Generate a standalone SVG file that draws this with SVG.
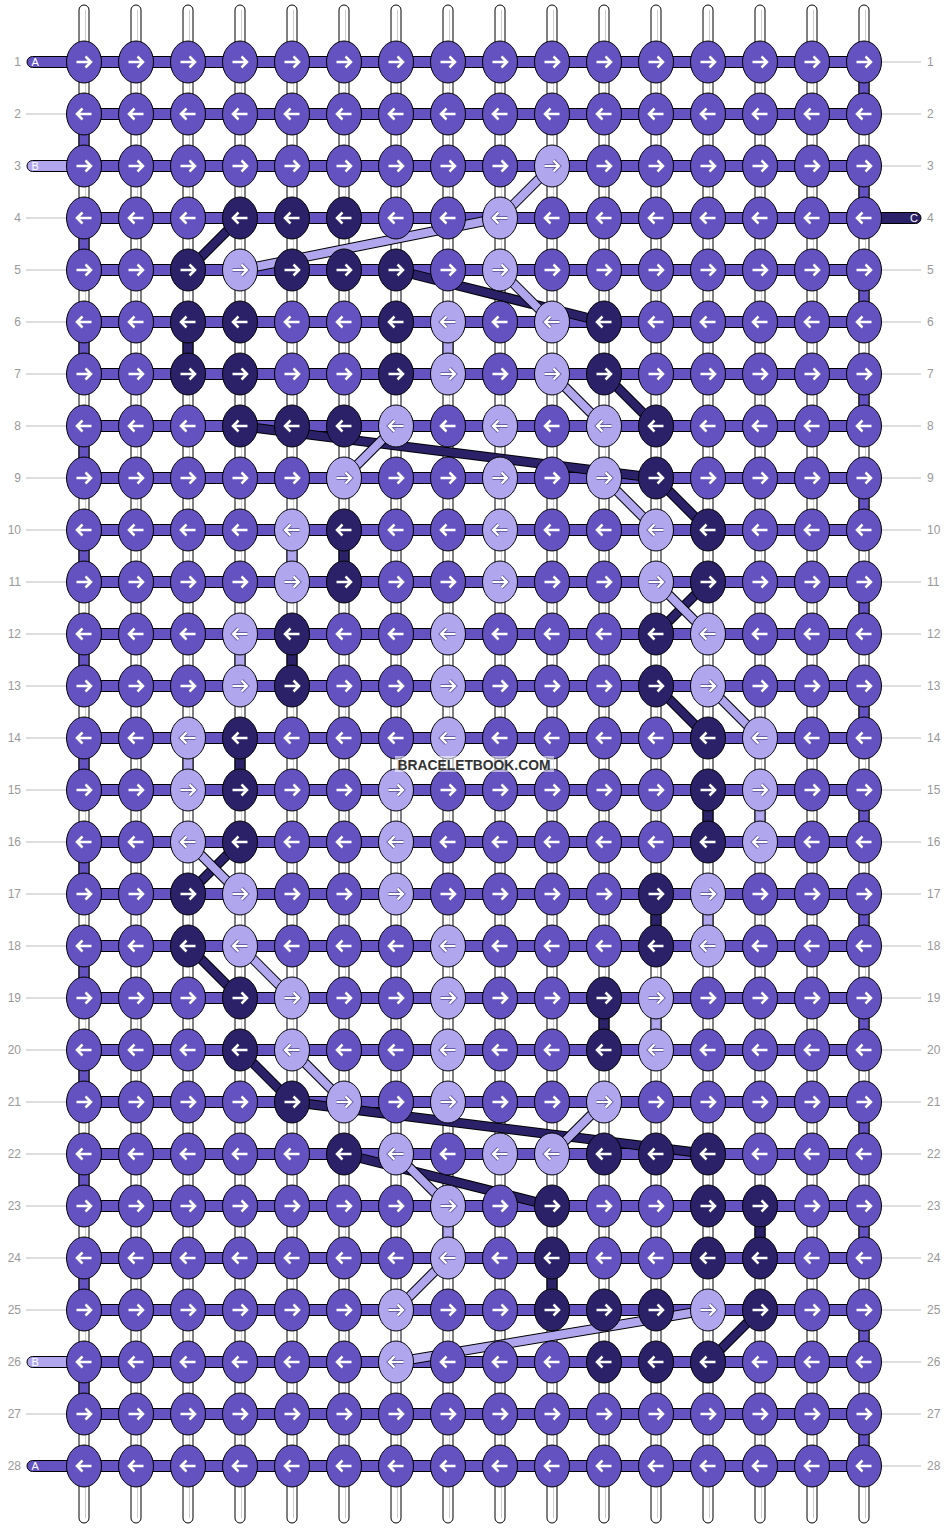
<svg xmlns="http://www.w3.org/2000/svg" xmlns:xlink="http://www.w3.org/1999/xlink" width="948" height="1528" viewBox="0 0 948 1528">
<style>
.w{fill:#fff;stroke:#000;stroke-width:1}
.wl{stroke:#cfcfcf;stroke-width:1}
.ha{fill:#6452c0;stroke:#000;stroke-width:1}
.hb{fill:#b0a6ee;stroke:#000;stroke-width:1}
.hc{fill:#2a2168;stroke:#000;stroke-width:1}
.ka{fill:#6452c0;stroke:#000;stroke-width:1}
.kb{fill:#b0a6ee;stroke:#000;stroke-width:1}
.kc{fill:#2a2168;stroke:#000;stroke-width:1}
.aw{fill:none;stroke:#fff;stroke-width:2.5}
.ao{fill:none;stroke:#6a60a8;stroke-width:4}
.co{fill:none;stroke:#000;stroke-width:10}
.cb{fill:none;stroke:#b0a6ee;stroke-width:8}
.cc{fill:none;stroke:#2a2168;stroke-width:8}
.gl{fill:none;stroke:#bdbdbd;stroke-width:1}
.num{font-family:"Liberation Sans",Arial,sans-serif;font-size:12px;fill:#999}
.pl{font-family:"Liberation Sans",Arial,sans-serif;font-size:11px;fill:#fff}
.wm{font-family:"Liberation Sans",Arial,sans-serif;font-size:15px;font-weight:bold;fill:#333}
</style>
<defs>
<g id="AR"><ellipse rx="17.5" ry="21" class="ka"/><path class="aw" d="M-7.5 0H6.5M1.5-5.5L7 0 1.5 5.5"/></g>
<g id="AL"><ellipse rx="17.5" ry="21" class="ka"/><path class="aw" d="M7.5 0H-6.5M-1.5-5.5L-7 0-1.5 5.5"/></g>
<g id="CR"><ellipse rx="17.5" ry="21" class="kc"/><path class="aw" d="M-7.5 0H6.5M1.5-5.5L7 0 1.5 5.5"/></g>
<g id="CL"><ellipse rx="17.5" ry="21" class="kc"/><path class="aw" d="M7.5 0H-6.5M-1.5-5.5L-7 0-1.5 5.5"/></g>
<g id="BR"><ellipse rx="17.5" ry="21" class="kb"/><path class="ao" d="M-7.5 0H6.5M1.5-5.5L7 0 1.5 5.5"/><path class="aw" d="M-7.5 0H6.5M1.5-5.5L7 0 1.5 5.5" style="stroke-width:2.2"/></g>
<g id="BL"><ellipse rx="17.5" ry="21" class="kb"/><path class="ao" d="M7.5 0H-6.5M-1.5-5.5L-7 0-1.5 5.5"/><path class="aw" d="M7.5 0H-6.5M-1.5-5.5L-7 0-1.5 5.5" style="stroke-width:2.2"/></g>
</defs>
<rect width="948" height="1528" fill="#fff"/>
<g id="warp">
<rect class="w" x="79" y="5" width="10" height="1518" rx="5"/><rect class="w" x="131" y="5" width="10" height="1518" rx="5"/><rect class="w" x="183" y="5" width="10" height="1518" rx="5"/><rect class="w" x="235" y="5" width="10" height="1518" rx="5"/><rect class="w" x="287" y="5" width="10" height="1518" rx="5"/><rect class="w" x="339" y="5" width="10" height="1518" rx="5"/><rect class="w" x="391" y="5" width="10" height="1518" rx="5"/><rect class="w" x="443" y="5" width="10" height="1518" rx="5"/><rect class="w" x="495" y="5" width="10" height="1518" rx="5"/><rect class="w" x="547" y="5" width="10" height="1518" rx="5"/><rect class="w" x="599" y="5" width="10" height="1518" rx="5"/><rect class="w" x="651" y="5" width="10" height="1518" rx="5"/><rect class="w" x="703" y="5" width="10" height="1518" rx="5"/><rect class="w" x="755" y="5" width="10" height="1518" rx="5"/><rect class="w" x="807" y="5" width="10" height="1518" rx="5"/><rect class="w" x="859" y="5" width="10" height="1518" rx="5"/>
<path class="wl" d="M85.5 10V1518M137.5 10V1518M189.5 10V1518M241.5 10V1518M293.5 10V1518M345.5 10V1518M397.5 10V1518M449.5 10V1518M501.5 10V1518M553.5 10V1518M605.5 10V1518M657.5 10V1518M709.5 10V1518M761.5 10V1518M813.5 10V1518M865.5 10V1518"/>
</g>
<g id="labels">
<path class="gl" d="M26 114H67M26 218H67M26 270H67M26 322H67M26 374H67M26 426H67M26 478H67M26 530H67M26 582H67M26 634H67M26 686H67M26 738H67M26 790H67M26 842H67M26 894H67M26 946H67M26 998H67M26 1050H67M26 1102H67M26 1154H67M26 1206H67M26 1258H67M26 1310H67M26 1414H67"/>
<path class="gl" d="M882 62H921M882 114H921M882 166H921M882 270H921M882 322H921M882 374H921M882 426H921M882 478H921M882 530H921M882 582H921M882 634H921M882 686H921M882 738H921M882 790H921M882 842H921M882 894H921M882 946H921M882 998H921M882 1050H921M882 1102H921M882 1154H921M882 1206H921M882 1258H921M882 1310H921M882 1362H921M882 1414H921M882 1466H921"/>
<g class="num" text-anchor="end">
<text x="21" y="66.3">1</text><text x="21" y="118.3">2</text><text x="21" y="170.3">3</text><text x="21" y="222.3">4</text><text x="21" y="274.3">5</text><text x="21" y="326.3">6</text><text x="21" y="378.3">7</text><text x="21" y="430.3">8</text><text x="21" y="482.3">9</text><text x="21" y="534.3">10</text><text x="21" y="586.3">11</text><text x="21" y="638.3">12</text><text x="21" y="690.3">13</text><text x="21" y="742.3">14</text><text x="21" y="794.3">15</text><text x="21" y="846.3">16</text><text x="21" y="898.3">17</text><text x="21" y="950.3">18</text><text x="21" y="1002.3">19</text><text x="21" y="1054.3">20</text><text x="21" y="1106.3">21</text><text x="21" y="1158.3">22</text><text x="21" y="1210.3">23</text><text x="21" y="1262.3">24</text><text x="21" y="1314.3">25</text><text x="21" y="1366.3">26</text><text x="21" y="1418.3">27</text><text x="21" y="1470.3">28</text>
</g>
<g class="num">
<text x="927" y="66.3">1</text><text x="927" y="118.3">2</text><text x="927" y="170.3">3</text><text x="927" y="222.3">4</text><text x="927" y="274.3">5</text><text x="927" y="326.3">6</text><text x="927" y="378.3">7</text><text x="927" y="430.3">8</text><text x="927" y="482.3">9</text><text x="927" y="534.3">10</text><text x="927" y="586.3">11</text><text x="927" y="638.3">12</text><text x="927" y="690.3">13</text><text x="927" y="742.3">14</text><text x="927" y="794.3">15</text><text x="927" y="846.3">16</text><text x="927" y="898.3">17</text><text x="927" y="950.3">18</text><text x="927" y="1002.3">19</text><text x="927" y="1054.3">20</text><text x="927" y="1106.3">21</text><text x="927" y="1158.3">22</text><text x="927" y="1210.3">23</text><text x="927" y="1262.3">24</text><text x="927" y="1314.3">25</text><text x="927" y="1366.3">26</text><text x="927" y="1418.3">27</text><text x="927" y="1470.3">28</text>
</g>
</g>
<g id="threads">
<rect class="ha" x="27" y="56.5" width="62" height="11" rx="5.5"/>
<rect class="hb" x="27" y="160.5" width="62" height="11" rx="5.5"/>
<rect class="hb" x="27" y="1356.5" width="62" height="11" rx="5.5"/>
<rect class="ha" x="27" y="1460.5" width="62" height="11" rx="5.5"/>
<rect class="hc" x="859" y="212.5" width="62" height="11" rx="5.5"/>
<text class="pl" x="31.5" y="66">A</text>
<text class="pl" x="31.5" y="170">B</text>
<text class="pl" x="31.5" y="1366">B</text>
<text class="pl" x="31.5" y="1470">A</text>
<text class="pl" x="918" y="222" text-anchor="end">C</text>
</g>
<g id="connectors">
<g id="rows-bars">
<rect class="ha" x="84" y="56.5" width="780" height="11"/><rect class="ha" x="84" y="108.5" width="780" height="11"/><rect class="ha" x="84" y="160.5" width="780" height="11"/><rect class="ha" x="84" y="212.5" width="780" height="11"/><rect class="ha" x="84" y="264.5" width="780" height="11"/><rect class="ha" x="84" y="316.5" width="780" height="11"/><rect class="ha" x="84" y="368.5" width="780" height="11"/><rect class="ha" x="84" y="420.5" width="780" height="11"/><rect class="ha" x="84" y="472.5" width="780" height="11"/><rect class="ha" x="84" y="524.5" width="780" height="11"/><rect class="ha" x="84" y="576.5" width="780" height="11"/><rect class="ha" x="84" y="628.5" width="780" height="11"/><rect class="ha" x="84" y="680.5" width="780" height="11"/><rect class="ha" x="84" y="732.5" width="780" height="11"/><rect class="ha" x="84" y="784.5" width="780" height="11"/><rect class="ha" x="84" y="836.5" width="780" height="11"/><rect class="ha" x="84" y="888.5" width="780" height="11"/><rect class="ha" x="84" y="940.5" width="780" height="11"/><rect class="ha" x="84" y="992.5" width="780" height="11"/><rect class="ha" x="84" y="1044.5" width="780" height="11"/><rect class="ha" x="84" y="1096.5" width="780" height="11"/><rect class="ha" x="84" y="1148.5" width="780" height="11"/><rect class="ha" x="84" y="1200.5" width="780" height="11"/><rect class="ha" x="84" y="1252.5" width="780" height="11"/><rect class="ha" x="84" y="1304.5" width="780" height="11"/><rect class="ha" x="84" y="1356.5" width="780" height="11"/><rect class="ha" x="84" y="1408.5" width="780" height="11"/><rect class="ha" x="84" y="1460.5" width="780" height="11"/>
</g>
<g id="turns">
<rect class="ha" x="79" y="114" width="10" height="52"/><rect class="ha" x="79" y="218" width="10" height="52"/><rect class="ha" x="79" y="322" width="10" height="52"/><rect class="ha" x="79" y="426" width="10" height="52"/><rect class="ha" x="79" y="530" width="10" height="52"/><rect class="ha" x="79" y="634" width="10" height="52"/><rect class="ha" x="79" y="738" width="10" height="52"/><rect class="ha" x="79" y="842" width="10" height="52"/><rect class="ha" x="79" y="946" width="10" height="52"/><rect class="ha" x="79" y="1050" width="10" height="52"/><rect class="ha" x="79" y="1154" width="10" height="52"/><rect class="ha" x="79" y="1258" width="10" height="52"/><rect class="ha" x="79" y="1362" width="10" height="52"/>
<rect class="ha" x="859" y="62" width="10" height="52"/><rect class="ha" x="859" y="166" width="10" height="52"/><rect class="ha" x="859" y="270" width="10" height="52"/><rect class="ha" x="859" y="374" width="10" height="52"/><rect class="ha" x="859" y="478" width="10" height="52"/><rect class="ha" x="859" y="582" width="10" height="52"/><rect class="ha" x="859" y="686" width="10" height="52"/><rect class="ha" x="859" y="790" width="10" height="52"/><rect class="ha" x="859" y="894" width="10" height="52"/><rect class="ha" x="859" y="998" width="10" height="52"/><rect class="ha" x="859" y="1102" width="10" height="52"/><rect class="ha" x="859" y="1206" width="10" height="52"/><rect class="ha" x="859" y="1310" width="10" height="52"/><rect class="ha" x="859" y="1414" width="10" height="52"/>
</g>
<g id="verticals">
<rect class="hc" x="183" y="322" width="10" height="52"/>
<rect class="hb" x="443" y="322" width="10" height="52"/>
<rect class="hb" x="287" y="530" width="10" height="52"/>
<rect class="hc" x="339" y="530" width="10" height="52"/>
<rect class="hb" x="235" y="634" width="10" height="52"/>
<rect class="hc" x="287" y="634" width="10" height="52"/>
<rect class="hb" x="183" y="738" width="10" height="52"/>
<rect class="hc" x="235" y="738" width="10" height="52"/>
<rect class="hc" x="703" y="790" width="10" height="52"/>
<rect class="hb" x="755" y="790" width="10" height="52"/>
<rect class="hc" x="651" y="894" width="10" height="52"/>
<rect class="hb" x="703" y="894" width="10" height="52"/>
<rect class="hc" x="599" y="998" width="10" height="52"/>
<rect class="hb" x="651" y="998" width="10" height="52"/>
<rect class="hb" x="443" y="1206" width="10" height="52"/>
<rect class="hc" x="755" y="1206" width="10" height="52"/>
<rect class="hc" x="547" y="1258" width="10" height="52"/>
</g>
<g id="dark-links">
<path class="co" d="M240 218L188 270"/><path class="cc" d="M240 218L188 270"/>
<path class="co" d="M396 270L604 322"/><path class="cc" d="M396 270L604 322"/>
<path class="co" d="M604 374L656 426"/><path class="cc" d="M604 374L656 426"/>
<path class="co" d="M240 426L656 478"/><path class="cc" d="M240 426L656 478"/>
<path class="co" d="M656 478L708 530"/><path class="cc" d="M656 478L708 530"/>
<path class="co" d="M708 582L656 634"/><path class="cc" d="M708 582L656 634"/>
<path class="co" d="M656 686L708 738"/><path class="cc" d="M656 686L708 738"/>
<path class="co" d="M188 894L240 842"/><path class="cc" d="M188 894L240 842"/>
<path class="co" d="M188 946L240 998"/><path class="cc" d="M188 946L240 998"/>
<path class="co" d="M240 1050L292 1102"/><path class="cc" d="M240 1050L292 1102"/>
<path class="co" d="M292 1102L708 1154"/><path class="cc" d="M292 1102L708 1154"/>
<path class="co" d="M344 1154L552 1206"/><path class="cc" d="M344 1154L552 1206"/>
<path class="co" d="M760 1310L708 1362"/><path class="cc" d="M760 1310L708 1362"/>
</g>
<g id="light-links">
<path class="co" d="M552 166L500 218"/><path class="cb" d="M552 166L500 218"/>
<path class="co" d="M500 218L240 270"/><path class="cb" d="M500 218L240 270"/>
<path class="co" d="M500 270L552 322"/><path class="cb" d="M500 270L552 322"/>
<path class="co" d="M552 374L604 426"/><path class="cb" d="M552 374L604 426"/>
<path class="co" d="M396 426L344 478"/><path class="cb" d="M396 426L344 478"/>
<path class="co" d="M604 478L656 530"/><path class="cb" d="M604 478L656 530"/>
<path class="co" d="M656 582L708 634"/><path class="cb" d="M656 582L708 634"/>
<path class="co" d="M708 686L760 738"/><path class="cb" d="M708 686L760 738"/>
<path class="co" d="M188 842L240 894"/><path class="cb" d="M188 842L240 894"/>
<path class="co" d="M240 946L292 998"/><path class="cb" d="M240 946L292 998"/>
<path class="co" d="M292 1050L344 1102"/><path class="cb" d="M292 1050L344 1102"/>
<path class="co" d="M604 1102L552 1154"/><path class="cb" d="M604 1102L552 1154"/>
<path class="co" d="M396 1154L448 1206"/><path class="cb" d="M396 1154L448 1206"/>
<path class="co" d="M448 1258L396 1310"/><path class="cb" d="M448 1258L396 1310"/>
<path class="co" d="M708 1310L396 1362"/><path class="cb" d="M708 1310L396 1362"/>
</g>
</g>
<g id="knots">
<g id="row1" transform="translate(0,62)">
<g id="k1-1"><use href="#AR" x="84"/></g><g id="k1-2"><use href="#AR" x="136"/></g><g id="k1-3"><use href="#AR" x="188"/></g><g id="k1-4"><use href="#AR" x="240"/></g><g id="k1-5"><use href="#AR" x="292"/></g><g id="k1-6"><use href="#AR" x="344"/></g><g id="k1-7"><use href="#AR" x="396"/></g><g id="k1-8"><use href="#AR" x="448"/></g><g id="k1-9"><use href="#AR" x="500"/></g><g id="k1-10"><use href="#AR" x="552"/></g><g id="k1-11"><use href="#AR" x="604"/></g><g id="k1-12"><use href="#AR" x="656"/></g><g id="k1-13"><use href="#AR" x="708"/></g><g id="k1-14"><use href="#AR" x="760"/></g><g id="k1-15"><use href="#AR" x="812"/></g><g id="k1-16"><use href="#AR" x="864"/></g>
</g>
<g id="row2" transform="translate(0,114)">
<g id="k2-1"><use href="#AL" x="84"/></g><g id="k2-2"><use href="#AL" x="136"/></g><g id="k2-3"><use href="#AL" x="188"/></g><g id="k2-4"><use href="#AL" x="240"/></g><g id="k2-5"><use href="#AL" x="292"/></g><g id="k2-6"><use href="#AL" x="344"/></g><g id="k2-7"><use href="#AL" x="396"/></g><g id="k2-8"><use href="#AL" x="448"/></g><g id="k2-9"><use href="#AL" x="500"/></g><g id="k2-10"><use href="#AL" x="552"/></g><g id="k2-11"><use href="#AL" x="604"/></g><g id="k2-12"><use href="#AL" x="656"/></g><g id="k2-13"><use href="#AL" x="708"/></g><g id="k2-14"><use href="#AL" x="760"/></g><g id="k2-15"><use href="#AL" x="812"/></g><g id="k2-16"><use href="#AL" x="864"/></g>
</g>
<g id="row3" transform="translate(0,166)">
<g id="k3-1"><use href="#AR" x="84"/></g><g id="k3-2"><use href="#AR" x="136"/></g><g id="k3-3"><use href="#AR" x="188"/></g><g id="k3-4"><use href="#AR" x="240"/></g><g id="k3-5"><use href="#AR" x="292"/></g><g id="k3-6"><use href="#AR" x="344"/></g><g id="k3-7"><use href="#AR" x="396"/></g><g id="k3-8"><use href="#AR" x="448"/></g><g id="k3-9"><use href="#AR" x="500"/></g><g id="k3-10"><use href="#BR" x="552"/></g><g id="k3-11"><use href="#AR" x="604"/></g><g id="k3-12"><use href="#AR" x="656"/></g><g id="k3-13"><use href="#AR" x="708"/></g><g id="k3-14"><use href="#AR" x="760"/></g><g id="k3-15"><use href="#AR" x="812"/></g><g id="k3-16"><use href="#AR" x="864"/></g>
</g>
<g id="row4" transform="translate(0,218)">
<g id="k4-1"><use href="#AL" x="84"/></g><g id="k4-2"><use href="#AL" x="136"/></g><g id="k4-3"><use href="#AL" x="188"/></g><g id="k4-4"><use href="#CL" x="240"/></g><g id="k4-5"><use href="#CL" x="292"/></g><g id="k4-6"><use href="#CL" x="344"/></g><g id="k4-7"><use href="#AL" x="396"/></g><g id="k4-8"><use href="#AL" x="448"/></g><g id="k4-9"><use href="#BL" x="500"/></g><g id="k4-10"><use href="#AL" x="552"/></g><g id="k4-11"><use href="#AL" x="604"/></g><g id="k4-12"><use href="#AL" x="656"/></g><g id="k4-13"><use href="#AL" x="708"/></g><g id="k4-14"><use href="#AL" x="760"/></g><g id="k4-15"><use href="#AL" x="812"/></g><g id="k4-16"><use href="#AL" x="864"/></g>
</g>
<g id="row5" transform="translate(0,270)">
<g id="k5-1"><use href="#AR" x="84"/></g><g id="k5-2"><use href="#AR" x="136"/></g><g id="k5-3"><use href="#CR" x="188"/></g><g id="k5-4"><use href="#BR" x="240"/></g><g id="k5-5"><use href="#CR" x="292"/></g><g id="k5-6"><use href="#CR" x="344"/></g><g id="k5-7"><use href="#CR" x="396"/></g><g id="k5-8"><use href="#AR" x="448"/></g><g id="k5-9"><use href="#BR" x="500"/></g><g id="k5-10"><use href="#AR" x="552"/></g><g id="k5-11"><use href="#AR" x="604"/></g><g id="k5-12"><use href="#AR" x="656"/></g><g id="k5-13"><use href="#AR" x="708"/></g><g id="k5-14"><use href="#AR" x="760"/></g><g id="k5-15"><use href="#AR" x="812"/></g><g id="k5-16"><use href="#AR" x="864"/></g>
</g>
<g id="row6" transform="translate(0,322)">
<g id="k6-1"><use href="#AL" x="84"/></g><g id="k6-2"><use href="#AL" x="136"/></g><g id="k6-3"><use href="#CL" x="188"/></g><g id="k6-4"><use href="#CL" x="240"/></g><g id="k6-5"><use href="#AL" x="292"/></g><g id="k6-6"><use href="#AL" x="344"/></g><g id="k6-7"><use href="#CL" x="396"/></g><g id="k6-8"><use href="#BL" x="448"/></g><g id="k6-9"><use href="#AL" x="500"/></g><g id="k6-10"><use href="#BL" x="552"/></g><g id="k6-11"><use href="#CL" x="604"/></g><g id="k6-12"><use href="#AL" x="656"/></g><g id="k6-13"><use href="#AL" x="708"/></g><g id="k6-14"><use href="#AL" x="760"/></g><g id="k6-15"><use href="#AL" x="812"/></g><g id="k6-16"><use href="#AL" x="864"/></g>
</g>
<g id="row7" transform="translate(0,374)">
<g id="k7-1"><use href="#AR" x="84"/></g><g id="k7-2"><use href="#AR" x="136"/></g><g id="k7-3"><use href="#CR" x="188"/></g><g id="k7-4"><use href="#CR" x="240"/></g><g id="k7-5"><use href="#AR" x="292"/></g><g id="k7-6"><use href="#AR" x="344"/></g><g id="k7-7"><use href="#CR" x="396"/></g><g id="k7-8"><use href="#BR" x="448"/></g><g id="k7-9"><use href="#AR" x="500"/></g><g id="k7-10"><use href="#BR" x="552"/></g><g id="k7-11"><use href="#CR" x="604"/></g><g id="k7-12"><use href="#AR" x="656"/></g><g id="k7-13"><use href="#AR" x="708"/></g><g id="k7-14"><use href="#AR" x="760"/></g><g id="k7-15"><use href="#AR" x="812"/></g><g id="k7-16"><use href="#AR" x="864"/></g>
</g>
<g id="row8" transform="translate(0,426)">
<g id="k8-1"><use href="#AL" x="84"/></g><g id="k8-2"><use href="#AL" x="136"/></g><g id="k8-3"><use href="#AL" x="188"/></g><g id="k8-4"><use href="#CL" x="240"/></g><g id="k8-5"><use href="#CL" x="292"/></g><g id="k8-6"><use href="#CL" x="344"/></g><g id="k8-7"><use href="#BL" x="396"/></g><g id="k8-8"><use href="#AL" x="448"/></g><g id="k8-9"><use href="#BL" x="500"/></g><g id="k8-10"><use href="#AL" x="552"/></g><g id="k8-11"><use href="#BL" x="604"/></g><g id="k8-12"><use href="#CL" x="656"/></g><g id="k8-13"><use href="#AL" x="708"/></g><g id="k8-14"><use href="#AL" x="760"/></g><g id="k8-15"><use href="#AL" x="812"/></g><g id="k8-16"><use href="#AL" x="864"/></g>
</g>
<g id="row9" transform="translate(0,478)">
<g id="k9-1"><use href="#AR" x="84"/></g><g id="k9-2"><use href="#AR" x="136"/></g><g id="k9-3"><use href="#AR" x="188"/></g><g id="k9-4"><use href="#AR" x="240"/></g><g id="k9-5"><use href="#AR" x="292"/></g><g id="k9-6"><use href="#BR" x="344"/></g><g id="k9-7"><use href="#AR" x="396"/></g><g id="k9-8"><use href="#AR" x="448"/></g><g id="k9-9"><use href="#BR" x="500"/></g><g id="k9-10"><use href="#AR" x="552"/></g><g id="k9-11"><use href="#BR" x="604"/></g><g id="k9-12"><use href="#CR" x="656"/></g><g id="k9-13"><use href="#AR" x="708"/></g><g id="k9-14"><use href="#AR" x="760"/></g><g id="k9-15"><use href="#AR" x="812"/></g><g id="k9-16"><use href="#AR" x="864"/></g>
</g>
<g id="row10" transform="translate(0,530)">
<g id="k10-1"><use href="#AL" x="84"/></g><g id="k10-2"><use href="#AL" x="136"/></g><g id="k10-3"><use href="#AL" x="188"/></g><g id="k10-4"><use href="#AL" x="240"/></g><g id="k10-5"><use href="#BL" x="292"/></g><g id="k10-6"><use href="#CL" x="344"/></g><g id="k10-7"><use href="#AL" x="396"/></g><g id="k10-8"><use href="#AL" x="448"/></g><g id="k10-9"><use href="#BL" x="500"/></g><g id="k10-10"><use href="#AL" x="552"/></g><g id="k10-11"><use href="#AL" x="604"/></g><g id="k10-12"><use href="#BL" x="656"/></g><g id="k10-13"><use href="#CL" x="708"/></g><g id="k10-14"><use href="#AL" x="760"/></g><g id="k10-15"><use href="#AL" x="812"/></g><g id="k10-16"><use href="#AL" x="864"/></g>
</g>
<g id="row11" transform="translate(0,582)">
<g id="k11-1"><use href="#AR" x="84"/></g><g id="k11-2"><use href="#AR" x="136"/></g><g id="k11-3"><use href="#AR" x="188"/></g><g id="k11-4"><use href="#AR" x="240"/></g><g id="k11-5"><use href="#BR" x="292"/></g><g id="k11-6"><use href="#CR" x="344"/></g><g id="k11-7"><use href="#AR" x="396"/></g><g id="k11-8"><use href="#AR" x="448"/></g><g id="k11-9"><use href="#BR" x="500"/></g><g id="k11-10"><use href="#AR" x="552"/></g><g id="k11-11"><use href="#AR" x="604"/></g><g id="k11-12"><use href="#BR" x="656"/></g><g id="k11-13"><use href="#CR" x="708"/></g><g id="k11-14"><use href="#AR" x="760"/></g><g id="k11-15"><use href="#AR" x="812"/></g><g id="k11-16"><use href="#AR" x="864"/></g>
</g>
<g id="row12" transform="translate(0,634)">
<g id="k12-1"><use href="#AL" x="84"/></g><g id="k12-2"><use href="#AL" x="136"/></g><g id="k12-3"><use href="#AL" x="188"/></g><g id="k12-4"><use href="#BL" x="240"/></g><g id="k12-5"><use href="#CL" x="292"/></g><g id="k12-6"><use href="#AL" x="344"/></g><g id="k12-7"><use href="#AL" x="396"/></g><g id="k12-8"><use href="#BL" x="448"/></g><g id="k12-9"><use href="#AL" x="500"/></g><g id="k12-10"><use href="#AL" x="552"/></g><g id="k12-11"><use href="#AL" x="604"/></g><g id="k12-12"><use href="#CL" x="656"/></g><g id="k12-13"><use href="#BL" x="708"/></g><g id="k12-14"><use href="#AL" x="760"/></g><g id="k12-15"><use href="#AL" x="812"/></g><g id="k12-16"><use href="#AL" x="864"/></g>
</g>
<g id="row13" transform="translate(0,686)">
<g id="k13-1"><use href="#AR" x="84"/></g><g id="k13-2"><use href="#AR" x="136"/></g><g id="k13-3"><use href="#AR" x="188"/></g><g id="k13-4"><use href="#BR" x="240"/></g><g id="k13-5"><use href="#CR" x="292"/></g><g id="k13-6"><use href="#AR" x="344"/></g><g id="k13-7"><use href="#AR" x="396"/></g><g id="k13-8"><use href="#BR" x="448"/></g><g id="k13-9"><use href="#AR" x="500"/></g><g id="k13-10"><use href="#AR" x="552"/></g><g id="k13-11"><use href="#AR" x="604"/></g><g id="k13-12"><use href="#CR" x="656"/></g><g id="k13-13"><use href="#BR" x="708"/></g><g id="k13-14"><use href="#AR" x="760"/></g><g id="k13-15"><use href="#AR" x="812"/></g><g id="k13-16"><use href="#AR" x="864"/></g>
</g>
<g id="row14" transform="translate(0,738)">
<g id="k14-1"><use href="#AL" x="84"/></g><g id="k14-2"><use href="#AL" x="136"/></g><g id="k14-3"><use href="#BL" x="188"/></g><g id="k14-4"><use href="#CL" x="240"/></g><g id="k14-5"><use href="#AL" x="292"/></g><g id="k14-6"><use href="#AL" x="344"/></g><g id="k14-7"><use href="#AL" x="396"/></g><g id="k14-8"><use href="#BL" x="448"/></g><g id="k14-9"><use href="#AL" x="500"/></g><g id="k14-10"><use href="#AL" x="552"/></g><g id="k14-11"><use href="#AL" x="604"/></g><g id="k14-12"><use href="#AL" x="656"/></g><g id="k14-13"><use href="#CL" x="708"/></g><g id="k14-14"><use href="#BL" x="760"/></g><g id="k14-15"><use href="#AL" x="812"/></g><g id="k14-16"><use href="#AL" x="864"/></g>
</g>
<g id="row15" transform="translate(0,790)">
<g id="k15-1"><use href="#AR" x="84"/></g><g id="k15-2"><use href="#AR" x="136"/></g><g id="k15-3"><use href="#BR" x="188"/></g><g id="k15-4"><use href="#CR" x="240"/></g><g id="k15-5"><use href="#AR" x="292"/></g><g id="k15-6"><use href="#AR" x="344"/></g><g id="k15-7"><use href="#BR" x="396"/></g><g id="k15-8"><use href="#AR" x="448"/></g><g id="k15-9"><use href="#AR" x="500"/></g><g id="k15-10"><use href="#AR" x="552"/></g><g id="k15-11"><use href="#AR" x="604"/></g><g id="k15-12"><use href="#AR" x="656"/></g><g id="k15-13"><use href="#CR" x="708"/></g><g id="k15-14"><use href="#BR" x="760"/></g><g id="k15-15"><use href="#AR" x="812"/></g><g id="k15-16"><use href="#AR" x="864"/></g>
</g>
<g id="row16" transform="translate(0,842)">
<g id="k16-1"><use href="#AL" x="84"/></g><g id="k16-2"><use href="#AL" x="136"/></g><g id="k16-3"><use href="#BL" x="188"/></g><g id="k16-4"><use href="#CL" x="240"/></g><g id="k16-5"><use href="#AL" x="292"/></g><g id="k16-6"><use href="#AL" x="344"/></g><g id="k16-7"><use href="#BL" x="396"/></g><g id="k16-8"><use href="#AL" x="448"/></g><g id="k16-9"><use href="#AL" x="500"/></g><g id="k16-10"><use href="#AL" x="552"/></g><g id="k16-11"><use href="#AL" x="604"/></g><g id="k16-12"><use href="#AL" x="656"/></g><g id="k16-13"><use href="#CL" x="708"/></g><g id="k16-14"><use href="#BL" x="760"/></g><g id="k16-15"><use href="#AL" x="812"/></g><g id="k16-16"><use href="#AL" x="864"/></g>
</g>
<g id="row17" transform="translate(0,894)">
<g id="k17-1"><use href="#AR" x="84"/></g><g id="k17-2"><use href="#AR" x="136"/></g><g id="k17-3"><use href="#CR" x="188"/></g><g id="k17-4"><use href="#BR" x="240"/></g><g id="k17-5"><use href="#AR" x="292"/></g><g id="k17-6"><use href="#AR" x="344"/></g><g id="k17-7"><use href="#BR" x="396"/></g><g id="k17-8"><use href="#AR" x="448"/></g><g id="k17-9"><use href="#AR" x="500"/></g><g id="k17-10"><use href="#AR" x="552"/></g><g id="k17-11"><use href="#AR" x="604"/></g><g id="k17-12"><use href="#CR" x="656"/></g><g id="k17-13"><use href="#BR" x="708"/></g><g id="k17-14"><use href="#AR" x="760"/></g><g id="k17-15"><use href="#AR" x="812"/></g><g id="k17-16"><use href="#AR" x="864"/></g>
</g>
<g id="row18" transform="translate(0,946)">
<g id="k18-1"><use href="#AL" x="84"/></g><g id="k18-2"><use href="#AL" x="136"/></g><g id="k18-3"><use href="#CL" x="188"/></g><g id="k18-4"><use href="#BL" x="240"/></g><g id="k18-5"><use href="#AL" x="292"/></g><g id="k18-6"><use href="#AL" x="344"/></g><g id="k18-7"><use href="#AL" x="396"/></g><g id="k18-8"><use href="#BL" x="448"/></g><g id="k18-9"><use href="#AL" x="500"/></g><g id="k18-10"><use href="#AL" x="552"/></g><g id="k18-11"><use href="#AL" x="604"/></g><g id="k18-12"><use href="#CL" x="656"/></g><g id="k18-13"><use href="#BL" x="708"/></g><g id="k18-14"><use href="#AL" x="760"/></g><g id="k18-15"><use href="#AL" x="812"/></g><g id="k18-16"><use href="#AL" x="864"/></g>
</g>
<g id="row19" transform="translate(0,998)">
<g id="k19-1"><use href="#AR" x="84"/></g><g id="k19-2"><use href="#AR" x="136"/></g><g id="k19-3"><use href="#AR" x="188"/></g><g id="k19-4"><use href="#CR" x="240"/></g><g id="k19-5"><use href="#BR" x="292"/></g><g id="k19-6"><use href="#AR" x="344"/></g><g id="k19-7"><use href="#AR" x="396"/></g><g id="k19-8"><use href="#BR" x="448"/></g><g id="k19-9"><use href="#AR" x="500"/></g><g id="k19-10"><use href="#AR" x="552"/></g><g id="k19-11"><use href="#CR" x="604"/></g><g id="k19-12"><use href="#BR" x="656"/></g><g id="k19-13"><use href="#AR" x="708"/></g><g id="k19-14"><use href="#AR" x="760"/></g><g id="k19-15"><use href="#AR" x="812"/></g><g id="k19-16"><use href="#AR" x="864"/></g>
</g>
<g id="row20" transform="translate(0,1050)">
<g id="k20-1"><use href="#AL" x="84"/></g><g id="k20-2"><use href="#AL" x="136"/></g><g id="k20-3"><use href="#AL" x="188"/></g><g id="k20-4"><use href="#CL" x="240"/></g><g id="k20-5"><use href="#BL" x="292"/></g><g id="k20-6"><use href="#AL" x="344"/></g><g id="k20-7"><use href="#AL" x="396"/></g><g id="k20-8"><use href="#BL" x="448"/></g><g id="k20-9"><use href="#AL" x="500"/></g><g id="k20-10"><use href="#AL" x="552"/></g><g id="k20-11"><use href="#CL" x="604"/></g><g id="k20-12"><use href="#BL" x="656"/></g><g id="k20-13"><use href="#AL" x="708"/></g><g id="k20-14"><use href="#AL" x="760"/></g><g id="k20-15"><use href="#AL" x="812"/></g><g id="k20-16"><use href="#AL" x="864"/></g>
</g>
<g id="row21" transform="translate(0,1102)">
<g id="k21-1"><use href="#AR" x="84"/></g><g id="k21-2"><use href="#AR" x="136"/></g><g id="k21-3"><use href="#AR" x="188"/></g><g id="k21-4"><use href="#AR" x="240"/></g><g id="k21-5"><use href="#CR" x="292"/></g><g id="k21-6"><use href="#BR" x="344"/></g><g id="k21-7"><use href="#AR" x="396"/></g><g id="k21-8"><use href="#BR" x="448"/></g><g id="k21-9"><use href="#AR" x="500"/></g><g id="k21-10"><use href="#AR" x="552"/></g><g id="k21-11"><use href="#BR" x="604"/></g><g id="k21-12"><use href="#AR" x="656"/></g><g id="k21-13"><use href="#AR" x="708"/></g><g id="k21-14"><use href="#AR" x="760"/></g><g id="k21-15"><use href="#AR" x="812"/></g><g id="k21-16"><use href="#AR" x="864"/></g>
</g>
<g id="row22" transform="translate(0,1154)">
<g id="k22-1"><use href="#AL" x="84"/></g><g id="k22-2"><use href="#AL" x="136"/></g><g id="k22-3"><use href="#AL" x="188"/></g><g id="k22-4"><use href="#AL" x="240"/></g><g id="k22-5"><use href="#AL" x="292"/></g><g id="k22-6"><use href="#CL" x="344"/></g><g id="k22-7"><use href="#BL" x="396"/></g><g id="k22-8"><use href="#AL" x="448"/></g><g id="k22-9"><use href="#BL" x="500"/></g><g id="k22-10"><use href="#BL" x="552"/></g><g id="k22-11"><use href="#CL" x="604"/></g><g id="k22-12"><use href="#CL" x="656"/></g><g id="k22-13"><use href="#CL" x="708"/></g><g id="k22-14"><use href="#AL" x="760"/></g><g id="k22-15"><use href="#AL" x="812"/></g><g id="k22-16"><use href="#AL" x="864"/></g>
</g>
<g id="row23" transform="translate(0,1206)">
<g id="k23-1"><use href="#AR" x="84"/></g><g id="k23-2"><use href="#AR" x="136"/></g><g id="k23-3"><use href="#AR" x="188"/></g><g id="k23-4"><use href="#AR" x="240"/></g><g id="k23-5"><use href="#AR" x="292"/></g><g id="k23-6"><use href="#AR" x="344"/></g><g id="k23-7"><use href="#AR" x="396"/></g><g id="k23-8"><use href="#BR" x="448"/></g><g id="k23-9"><use href="#AR" x="500"/></g><g id="k23-10"><use href="#CR" x="552"/></g><g id="k23-11"><use href="#AR" x="604"/></g><g id="k23-12"><use href="#AR" x="656"/></g><g id="k23-13"><use href="#CR" x="708"/></g><g id="k23-14"><use href="#CR" x="760"/></g><g id="k23-15"><use href="#AR" x="812"/></g><g id="k23-16"><use href="#AR" x="864"/></g>
</g>
<g id="row24" transform="translate(0,1258)">
<g id="k24-1"><use href="#AL" x="84"/></g><g id="k24-2"><use href="#AL" x="136"/></g><g id="k24-3"><use href="#AL" x="188"/></g><g id="k24-4"><use href="#AL" x="240"/></g><g id="k24-5"><use href="#AL" x="292"/></g><g id="k24-6"><use href="#AL" x="344"/></g><g id="k24-7"><use href="#AL" x="396"/></g><g id="k24-8"><use href="#BL" x="448"/></g><g id="k24-9"><use href="#AL" x="500"/></g><g id="k24-10"><use href="#CL" x="552"/></g><g id="k24-11"><use href="#AL" x="604"/></g><g id="k24-12"><use href="#AL" x="656"/></g><g id="k24-13"><use href="#CL" x="708"/></g><g id="k24-14"><use href="#CL" x="760"/></g><g id="k24-15"><use href="#AL" x="812"/></g><g id="k24-16"><use href="#AL" x="864"/></g>
</g>
<g id="row25" transform="translate(0,1310)">
<g id="k25-1"><use href="#AR" x="84"/></g><g id="k25-2"><use href="#AR" x="136"/></g><g id="k25-3"><use href="#AR" x="188"/></g><g id="k25-4"><use href="#AR" x="240"/></g><g id="k25-5"><use href="#AR" x="292"/></g><g id="k25-6"><use href="#AR" x="344"/></g><g id="k25-7"><use href="#BR" x="396"/></g><g id="k25-8"><use href="#AR" x="448"/></g><g id="k25-9"><use href="#AR" x="500"/></g><g id="k25-10"><use href="#CR" x="552"/></g><g id="k25-11"><use href="#CR" x="604"/></g><g id="k25-12"><use href="#CR" x="656"/></g><g id="k25-13"><use href="#BR" x="708"/></g><g id="k25-14"><use href="#CR" x="760"/></g><g id="k25-15"><use href="#AR" x="812"/></g><g id="k25-16"><use href="#AR" x="864"/></g>
</g>
<g id="row26" transform="translate(0,1362)">
<g id="k26-1"><use href="#AL" x="84"/></g><g id="k26-2"><use href="#AL" x="136"/></g><g id="k26-3"><use href="#AL" x="188"/></g><g id="k26-4"><use href="#AL" x="240"/></g><g id="k26-5"><use href="#AL" x="292"/></g><g id="k26-6"><use href="#AL" x="344"/></g><g id="k26-7"><use href="#BL" x="396"/></g><g id="k26-8"><use href="#AL" x="448"/></g><g id="k26-9"><use href="#AL" x="500"/></g><g id="k26-10"><use href="#AL" x="552"/></g><g id="k26-11"><use href="#CL" x="604"/></g><g id="k26-12"><use href="#CL" x="656"/></g><g id="k26-13"><use href="#CL" x="708"/></g><g id="k26-14"><use href="#AL" x="760"/></g><g id="k26-15"><use href="#AL" x="812"/></g><g id="k26-16"><use href="#AL" x="864"/></g>
</g>
<g id="row27" transform="translate(0,1414)">
<g id="k27-1"><use href="#AR" x="84"/></g><g id="k27-2"><use href="#AR" x="136"/></g><g id="k27-3"><use href="#AR" x="188"/></g><g id="k27-4"><use href="#AR" x="240"/></g><g id="k27-5"><use href="#AR" x="292"/></g><g id="k27-6"><use href="#AR" x="344"/></g><g id="k27-7"><use href="#AR" x="396"/></g><g id="k27-8"><use href="#AR" x="448"/></g><g id="k27-9"><use href="#AR" x="500"/></g><g id="k27-10"><use href="#AR" x="552"/></g><g id="k27-11"><use href="#AR" x="604"/></g><g id="k27-12"><use href="#AR" x="656"/></g><g id="k27-13"><use href="#AR" x="708"/></g><g id="k27-14"><use href="#AR" x="760"/></g><g id="k27-15"><use href="#AR" x="812"/></g><g id="k27-16"><use href="#AR" x="864"/></g>
</g>
<g id="row28" transform="translate(0,1466)">
<g id="k28-1"><use href="#AL" x="84"/></g><g id="k28-2"><use href="#AL" x="136"/></g><g id="k28-3"><use href="#AL" x="188"/></g><g id="k28-4"><use href="#AL" x="240"/></g><g id="k28-5"><use href="#AL" x="292"/></g><g id="k28-6"><use href="#AL" x="344"/></g><g id="k28-7"><use href="#AL" x="396"/></g><g id="k28-8"><use href="#AL" x="448"/></g><g id="k28-9"><use href="#AL" x="500"/></g><g id="k28-10"><use href="#AL" x="552"/></g><g id="k28-11"><use href="#AL" x="604"/></g><g id="k28-12"><use href="#AL" x="656"/></g><g id="k28-13"><use href="#AL" x="708"/></g><g id="k28-14"><use href="#AL" x="760"/></g><g id="k28-15"><use href="#AL" x="812"/></g><g id="k28-16"><use href="#AL" x="864"/></g>
</g>
</g>
<g id="watermark">
<rect x="395" y="756" width="159" height="16" fill="#fff" fill-opacity="0.55"/>
<text class="wm" x="397.5" y="769.5" textLength="153" lengthAdjust="spacingAndGlyphs">BRACELETBOOK.COM</text>
</g>
</svg>
